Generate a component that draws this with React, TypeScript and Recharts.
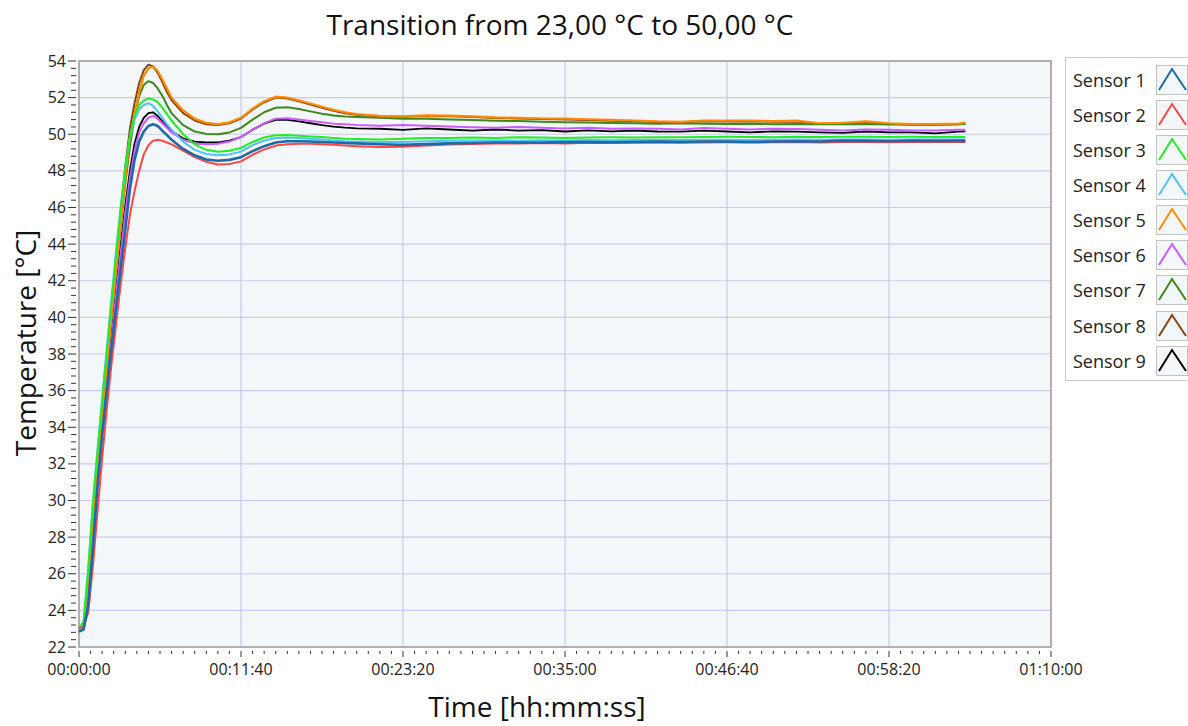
import { LineChart, Line, XAxis, YAxis, CartesianGrid, ReferenceArea } from 'recharts';

const FONT = "'Open Sans', 'Noto Sans', sans-serif";

// time in seconds since start of transition
const TIME_S = [
  0, 20, 40, 60, 80, 100, 120, 140, 160, 180, 200, 220, 240, 260, 280, 300, 320, 340, 360, 380, 400,
  450, 500, 550, 600, 650, 700, 750, 800, 850, 900, 950, 1000, 1050, 1100, 1150, 1200,
  1300, 1400, 1500, 1600, 1700, 1800, 1900, 2000, 2100, 2200, 2300, 2400, 2500, 2600, 2700, 2800, 2900,
  3000, 3100, 3200, 3300, 3400, 3500, 3600, 3700, 3800, 3830,
];

const SENSOR_1 = [
  22.85, 22.95, 24.3, 27.4, 30.8, 33.6, 36.0, 38.3, 40.5, 42.7, 44.8, 47.0, 48.6, 49.6, 50.15, 50.45, 50.55, 50.45, 50.2, 49.95, 49.7,
  49.2, 48.85, 48.62, 48.55, 48.6, 48.75, 49.08, 49.35, 49.55, 49.62, 49.62, 49.6, 49.58, 49.55, 49.52, 49.5,
  49.45, 49.42, 49.46, 49.5, 49.52, 49.55, 49.55, 49.54, 49.57, 49.58, 49.56, 49.58, 49.6, 49.58, 49.6, 49.6, 49.58,
  49.6, 49.62, 49.6, 49.65, 49.64, 49.62, 49.65, 49.64, 49.65, 49.64,
];
const SENSOR_2 = [
  23.05, 23.1, 23.9, 26.4, 29.4, 32.3, 35.0, 37.4, 39.6, 41.8, 43.8, 45.6, 46.9, 48.0, 48.9, 49.4, 49.65, 49.7, 49.65, 49.55, 49.45,
  49.1, 48.75, 48.5, 48.35, 48.38, 48.52, 48.88, 49.17, 49.38, 49.46, 49.48, 49.48, 49.45, 49.42, 49.38, 49.35,
  49.3, 49.32, 49.38, 49.44, 49.47, 49.5, 49.5, 49.52, 49.5, 49.53, 49.52, 49.54, 49.55, 49.53, 49.55, 49.56, 49.55,
  49.56, 49.57, 49.55, 49.58, 49.57, 49.56, 49.58, 49.57, 49.58, 49.57,
];
const SENSOR_3 = [
  23.0, 23.4, 26.2, 29.8, 32.6, 35.4, 38.1, 40.8, 43.4, 45.9, 48.2, 49.9, 51.0, 51.6, 51.85, 51.95, 51.9, 51.75, 51.45, 51.1, 50.75,
  50.0, 49.45, 49.15, 49.05, 49.1, 49.25, 49.58, 49.82, 49.95, 49.96, 49.92, 49.88, 49.85, 49.8, 49.76, 49.74,
  49.72, 49.75, 49.8, 49.8, 49.82, 49.8, 49.83, 49.82, 49.8, 49.82, 49.83, 49.82, 49.84, 49.83, 49.85, 49.86, 49.85,
  49.84, 49.86, 49.85, 49.87, 49.86, 49.85, 49.86, 49.85, 49.86, 49.85,
];
const SENSOR_4 = [
  22.9, 23.4, 26.3, 29.9, 32.8, 35.6, 38.3, 41.0, 43.6, 46.0, 48.2, 49.8, 50.8, 51.35, 51.6, 51.7, 51.55, 51.25, 50.9, 50.55, 50.25,
  49.6, 49.15, 48.92, 48.85, 48.9, 49.05, 49.4, 49.65, 49.8, 49.82, 49.8, 49.76, 49.72, 49.66, 49.62, 49.6,
  49.57, 49.58, 49.62, 49.64, 49.65, 49.66, 49.65, 49.67, 49.66, 49.68, 49.67, 49.69, 49.7, 49.68, 49.7, 49.7, 49.69,
  49.7, 49.71, 49.7, 49.72, 49.71, 49.7, 49.72, 49.71, 49.72, 49.71,
];
const SENSOR_5 = [
  23.0, 23.2, 25.6, 29.0, 31.9, 34.7, 37.4, 40.0, 42.6, 45.1, 47.6, 49.8, 51.1, 52.3, 53.2, 53.6, 53.7, 53.45, 53.0, 52.5, 52.0,
  51.3, 50.85, 50.62, 50.55, 50.65, 50.9, 51.4, 51.8, 52.05, 52.0, 51.85, 51.68, 51.5, 51.33, 51.2, 51.1,
  51.0, 50.98, 51.03, 51.02, 50.98, 50.92, 50.9, 50.86, 50.85, 50.82, 50.78, 50.75, 50.7, 50.68, 50.75, 50.74, 50.75,
  50.72, 50.74, 50.6, 50.62, 50.7, 50.6, 50.55, 50.56, 50.58, 50.64,
];
const SENSOR_6 = [
  23.0, 23.1, 24.8, 27.8, 30.8, 33.6, 36.2, 38.7, 41.2, 43.5, 45.7, 47.6, 49.1, 50.1, 50.6, 50.9, 51.0, 50.85, 50.6, 50.35, 50.1,
  49.7, 49.5, 49.45, 49.48, 49.6, 49.85, 50.25, 50.6, 50.85, 50.88, 50.8, 50.72, 50.65, 50.58, 50.54, 50.5,
  50.47, 50.5, 50.46, 50.42, 50.38, 50.36, 50.4, 50.36, 50.32, 50.35, 50.3, 50.32, 50.3, 50.26, 50.34, 50.3, 50.26,
  50.3, 50.28, 50.24, 50.2, 50.26, 50.24, 50.2, 50.2, 50.25, 50.24,
];
const SENSOR_7 = [
  23.0, 23.2, 25.6, 29.0, 31.9, 34.7, 37.4, 40.0, 42.6, 45.0, 47.3, 49.3, 51.0, 52.1, 52.7, 52.9, 52.8, 52.5, 52.1, 51.6, 51.15,
  50.5, 50.15, 50.02, 50.0, 50.1, 50.35, 50.8, 51.2, 51.45, 51.48, 51.38, 51.25, 51.12, 51.03, 50.97, 50.94,
  50.9, 50.85, 50.84, 50.8, 50.78, 50.74, 50.72, 50.68, 50.66, 50.64, 50.62, 50.6, 50.58, 50.6, 50.58, 50.56, 50.57,
  50.55, 50.56, 50.54, 50.55, 50.56, 50.53, 50.54, 50.52, 50.55, 50.56,
];
const SENSOR_8 = [
  23.0, 23.2, 25.8, 29.3, 32.2, 35.0, 37.8, 40.5, 43.1, 45.7, 48.2, 50.3, 51.7, 52.8, 53.5, 53.8, 53.7, 53.35, 52.85, 52.3, 51.85,
  51.15, 50.75, 50.55, 50.5, 50.6, 50.85, 51.35, 51.75, 52.0, 51.95, 51.8, 51.62, 51.45, 51.28, 51.15, 51.06,
  50.97, 50.95, 50.99, 50.98, 50.94, 50.89, 50.86, 50.83, 50.81, 50.78, 50.74, 50.71, 50.67, 50.65, 50.71, 50.7, 50.71,
  50.68, 50.7, 50.57, 50.59, 50.66, 50.57, 50.52, 50.53, 50.55, 50.6,
];
const SENSOR_9 = [
  23.0, 23.1, 24.9, 28.0, 31.0, 33.8, 36.5, 39.0, 41.5, 43.9, 46.1, 48.0, 49.5, 50.4, 50.9, 51.15, 51.2, 51.0, 50.7, 50.4, 50.15,
  49.78, 49.6, 49.55, 49.55, 49.65, 49.85, 50.25, 50.58, 50.78, 50.78, 50.7, 50.6, 50.5, 50.42, 50.36, 50.32,
  50.3, 50.24, 50.32, 50.26, 50.2, 50.26, 50.2, 50.22, 50.15, 50.21, 50.16, 50.2, 50.15, 50.14, 50.2, 50.15, 50.1,
  50.16, 50.14, 50.1, 50.08, 50.15, 50.1, 50.1, 50.05, 50.14, 50.16,
];

const SENSORS = [
  { key: 's1', name: 'Sensor 1', color: '#1f69a6', width: 2.6, values: SENSOR_1 },
  { key: 's2', name: 'Sensor 2', color: '#ff4545', width: 2, values: SENSOR_2 },
  { key: 's3', name: 'Sensor 3', color: '#22ee22', width: 2, values: SENSOR_3 },
  { key: 's4', name: 'Sensor 4', color: '#4cc4fb', width: 2, values: SENSOR_4 },
  { key: 's5', name: 'Sensor 5', color: '#ff8a00', width: 2.2, values: SENSOR_5 },
  { key: 's6', name: 'Sensor 6', color: '#cc5cff', width: 2, values: SENSOR_6 },
  { key: 's7', name: 'Sensor 7', color: '#3d8a1a', width: 2, values: SENSOR_7 },
  { key: 's8', name: 'Sensor 8', color: '#8a4512', width: 2, values: SENSOR_8 },
  { key: 's9', name: 'Sensor 9', color: '#000000', width: 1.8, values: SENSOR_9 },
];

const TIME_TICKS = [0, 700, 1400, 2100, 2800, 3500, 4200];
const TIME_LABELS = ['00:00:00', '00:11:40', '00:23:20', '00:35:00', '00:46:40', '00:58:20', '01:10:00'];
const TEMP_TICKS = [22, 24, 26, 28, 30, 32, 34, 36, 38, 40, 42, 44, 46, 48, 50, 52, 54];

// minor ticks: every 50 s and every 0.4 °C
const TIME_MINOR = Array.from({ length: 85 }, (_, i) => i * 50);
const TEMP_MINOR = Array.from({ length: 81 }, (_, i) => Math.round((22 + i * 0.4) * 10) / 10);

const rows = TIME_S.map((t, i) => {
  const r: Record<string, number> = { t };
  SENSORS.forEach((s) => {
    r[s.key] = s.values[i];
  });
  return r;
});

function TimeTick(props: any) {
  const { x, y, payload } = props;
  const i = TIME_TICKS.indexOf(payload.value);
  const major = i >= 0;
  return (
    <g>
      <line x1={x} x2={x} y1={y + 4} y2={y + (major ? 10 : 7)} stroke="#333" strokeWidth={1} />
      {major && (
        <text x={x} y={y + 28} textAnchor="middle" fontSize={16} fill="#222" fontFamily={FONT}>
          {TIME_LABELS[i]}
        </text>
      )}
    </g>
  );
}

function TempTick(props: any) {
  const { x, y, payload } = props;
  const major = TEMP_TICKS.includes(payload.value);
  return (
    <g>
      <line x1={x - (major ? 11 : 8)} x2={x - 3} y1={y} y2={y} stroke="#333" strokeWidth={1} />
      {major && (
        <text x={x - 13} y={y} dy="0.35em" textAnchor="end" fontSize={16} fill="#222" fontFamily={FONT}>
          {payload.value}
        </text>
      )}
    </g>
  );
}

function LegendBox() {
  return (
    <div
      style={{
        position: 'absolute',
        left: 1065,
        top: 57,
        width: 140,
        height: 324,
        border: '1px solid #c9c9c9',
        background: '#fff',
        boxSizing: 'border-box',
        fontFamily: FONT,
      }}
    >
      {SENSORS.map((s, i) => (
        <div key={s.key} style={{ position: 'absolute', left: 0, top: 4.5 + i * 35.15, height: 35, width: 140 }}>
          <span style={{ position: 'absolute', left: 7, top: 4, fontSize: 18, lineHeight: '26px', color: '#222' }}>
            {s.name}
          </span>
          <div
            style={{
              position: 'absolute',
              left: 90,
              top: 2,
              width: 32,
              height: 30,
              background: '#f4f7f9',
              border: '1px solid #c3c3c3',
              boxSizing: 'border-box',
            }}
          >
            <svg width={32} height={30} style={{ position: 'absolute', left: -1, top: -1 }}>
              <polyline points="3,25 16,4 30,25" fill="none" stroke={s.color} strokeWidth={2} />
            </svg>
          </div>
        </div>
      ))}
    </div>
  );
}

export default function App() {
  return (
    <div
      style={{
        position: 'fixed',
        left: 0,
        top: 0,
        width: 1188,
        height: 726,
        overflow: 'hidden',
        background: '#fff',
        fontFamily: FONT,
      }}
    >
      <LineChart width={1188} height={726} data={rows} margin={{ top: 61, right: 137, bottom: 0, left: 8 }}>
        <CartesianGrid
          fill="#f4f7f9"
          stroke="#cacaf0"
          strokeWidth={1.2}
          horizontalValues={TEMP_TICKS.slice(1, -1)}
          verticalValues={TIME_TICKS.slice(1, -1)}
        />
        <XAxis
          dataKey="t"
          type="number"
          domain={[0, 4200]}
          ticks={TIME_MINOR}
          interval={0}
          height={79}
          tickSize={0}
          tickMargin={0}
          tickLine={false}
          axisLine={false}
          tick={<TimeTick />}
        />
        <YAxis
          type="number"
          domain={[22, 54]}
          ticks={TEMP_MINOR}
          interval={0}
          width={71}
          tickSize={0}
          tickMargin={0}
          tickLine={false}
          axisLine={false}
          tick={<TempTick />}
        />
        {[...SENSORS].reverse().map((s) => (
          <Line
            key={s.key}
            dataKey={s.key}
            name={s.name}
            type="linear"
            stroke={s.color}
            strokeWidth={s.width}
            strokeLinejoin="round"
            dot={false}
            activeDot={false}
            isAnimationActive={false}
          />
        ))}
        <ReferenceArea x1={0} x2={4200} y1={22} y2={54} fill="none" stroke="#b0b0b0" strokeWidth={2} />
      </LineChart>
      <svg width={1188} height={726} style={{ position: 'absolute', left: 0, top: 0, pointerEvents: 'none' }}>
        <text x={560} y={35} textAnchor="middle" fontSize={28} fill="#111" fontFamily={FONT}>
          Transition from 23,00 °C to 50,00 °C
        </text>
        <text x={537} y={717} textAnchor="middle" fontSize={28} fill="#111" fontFamily={FONT}>
          Time [hh:mm:ss]
        </text>
        <text x={36} y={343} textAnchor="middle" fontSize={28} fill="#111" fontFamily={FONT} transform="rotate(-90 36 343)">
          Temperature [°C]
        </text>
      </svg>
      <LegendBox />
    </div>
  );
}
